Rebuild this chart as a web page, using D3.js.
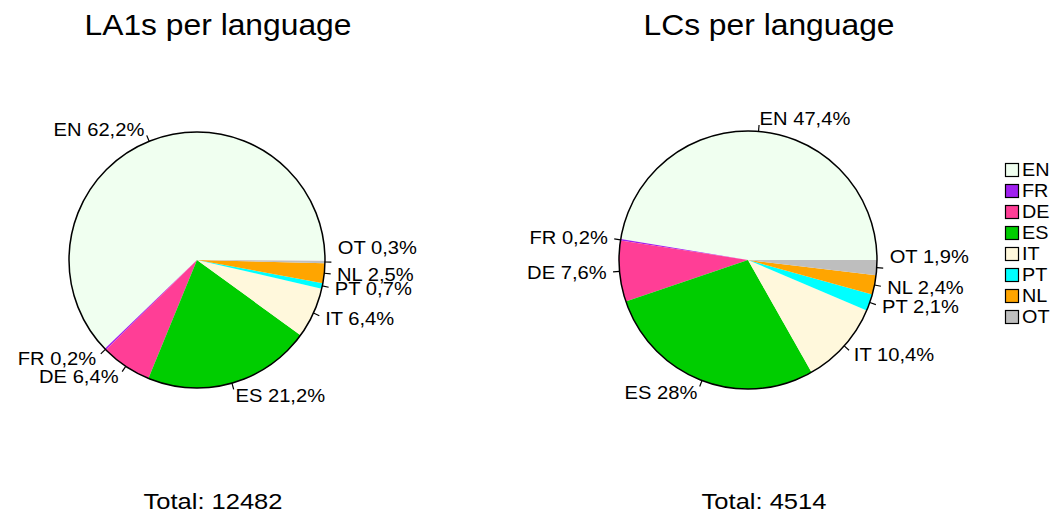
<!DOCTYPE html>
<meta charset="utf-8">
<title>Languages</title>
<style>
body { margin: 0; background: #fff; }
text { font-family: "Liberation Sans", Arial, Helvetica, sans-serif; fill: #000; }
.slice { stroke: none; }
.rim { fill: none; stroke: #000; stroke-width: 1.5px; }
.tick { stroke: #000; stroke-width: 1.2px; }
</style>
<svg width="1060" height="517"></svg>
<script src="https://d3js.org/d3.v7.min.js"></script>
<script>

// languages, in drawing order (counterclockwise from 3 o'clock, like R's pie)
var langs = ["EN", "FR", "DE", "ES", "IT", "PT", "NL", "OT"];
var langColors = ["#F0FFF0", "#A020F0", "#FF3E96", "#00CD00", "#FFF8DC", "#00FFFF", "#FFA500", "#BEBEBE"];

// share of each language, in percent
var la1Share = [62.2, 0.2, 6.4, 21.2, 6.4, 0.7, 2.5, 0.3];
var lcShare  = [47.4, 0.2, 7.6, 28.0, 10.4, 2.1, 2.4, 1.9];

var titles = ["LA1s per language", "LCs per language"];
var totals = [12482, 4514];

var color = d3.scaleOrdinal().domain(langs).range(langColors);

var svg = d3.select("svg");

var fmt = function(v) { return d3.format("~f")(Math.round(v * 10) / 10).replace(".", ","); };

// the reference font renders a bit wider than Liberation Sans, so stretch text horizontally
var place = function(x, y, sx) { return "translate(" + x + "," + y + ") scale(" + sx + ",1)"; };

var panels = [
  {values: la1Share, cx: 197, cy: 260, r: 128, titleX: 218, totalX: 213, otNudge: -15, title: titles[0], total: totals[0]},
  {values: lcShare,  cx: 748, cy: 260, r: 129, titleX: 769, totalX: 764, otNudge: -12, title: titles[1], total: totals[1]}
];

// angle scale: cumulative share -> radians (counterclockwise from east)
var angle = d3.scaleLinear().domain([0, 100]).range([0, 2 * Math.PI]);

panels.forEach(function(p) {
  var g = svg.append("g").attr("transform", "translate(" + p.cx + "," + p.cy + ")");

  var cum = 0;
  var slices = p.values.map(function(v, i) {
    var s = {lang: langs[i], value: v, a0: angle(cum), a1: angle(cum + v)};
    cum += v;
    s.mid = (s.a0 + s.a1) / 2;
    return s;
  });

  // d3.arc measures clockwise from 12 o'clock; convert from math angle
  var arc = d3.arc().innerRadius(0).outerRadius(p.r);
  g.selectAll(".slice")
    .data(slices)
    .enter().append("path")
      .attr("class", "slice")
      .attr("fill", function(d) { return color(d.lang); })
      .attr("d", function(d) {
        return arc({startAngle: Math.PI / 2 - d.a1, endAngle: Math.PI / 2 - d.a0});
      });

  g.append("circle").attr("class", "rim").attr("r", p.r);

  g.selectAll(".tick")
    .data(slices)
    .enter().append("line")
      .attr("class", "tick")
      .attr("x1", function(d) { return Math.cos(d.mid) * p.r; })
      .attr("y1", function(d) { return -Math.sin(d.mid) * p.r; })
      .attr("x2", function(d) { return Math.cos(d.mid) * p.r * 1.05; })
      .attr("y2", function(d) { return -Math.sin(d.mid) * p.r * 1.05; });

  g.selectAll(".lbl")
    .data(slices)
    .enter().append("text")
      .attr("class", "lbl")
      .attr("transform", function(d) {
        var y = -Math.sin(d.mid) * p.r * 1.1 + (d.lang == "OT" ? p.otNudge : 0);
        return place(Math.cos(d.mid) * p.r * 1.1, y, 1.12);
      })
      .attr("dy", "0.35em")
      .style("font-size", "18px")
      .style("text-anchor", function(d) { return Math.cos(d.mid) < 0 ? "end" : "start"; })
      .text(function(d) { return d.lang + " " + fmt(d.value) + "%"; });

  svg.append("text")
    .attr("transform", place(p.titleX, 35, 1.06))
    .style("font-size", "30px")
    .style("text-anchor", "middle")
    .text(p.title);

  svg.append("text")
    .attr("transform", place(p.totalX, 509, 1.16))
    .style("font-size", "22px")
    .style("text-anchor", "middle")
    .text("Total: " + p.total);
});

// legend
var legend = svg.append("g").attr("transform", "translate(1005,170)");
var row = d3.scaleBand().domain(langs).range([0, 21 * langs.length]);
var item = legend.selectAll(".item")
  .data(langs)
  .enter().append("g")
    .attr("transform", function(d) { return "translate(0," + row(d) + ")"; });
item.append("rect")
  .attr("x", 0.5).attr("y", -6.5)
  .attr("width", 13).attr("height", 13)
  .attr("fill", function(d) { return color(d); })
  .attr("stroke", "#000").attr("stroke-width", 1.2);
item.append("text")
  .attr("transform", place(17, 0, 1.1))
  .attr("dy", "0.35em")
  .style("font-size", "18px")
  .text(function(d) { return d; });

</script>
